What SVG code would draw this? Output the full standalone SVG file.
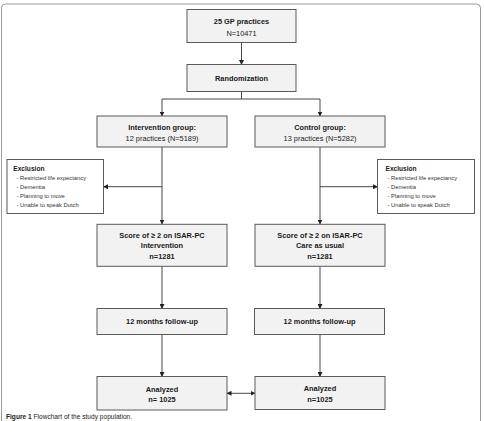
<svg xmlns="http://www.w3.org/2000/svg" width="484" height="421" viewBox="0 0 484 421">
<defs>
<marker id="ah" markerWidth="5" markerHeight="5" refX="4.5" refY="2.5" orient="auto" markerUnits="userSpaceOnUse">
<path d="M0,0 L5,2.5 L0,5 Z" fill="#222"/>
</marker>
<marker id="ahs" markerWidth="5" markerHeight="5" refX="0.5" refY="2.5" orient="auto" markerUnits="userSpaceOnUse">
<path d="M5,0 L0,2.5 L5,5 Z" fill="#222"/>
</marker>
<style>
.box{fill:#f2f2f2;stroke:#5a5a5a;stroke-width:1}
.ex{fill:#ffffff;stroke:#5a5a5a;stroke-width:1}
.t{font-family:"Liberation Sans",Arial,sans-serif;font-size:7.4px;fill:#1a1a1a;text-anchor:middle}
.b{font-weight:bold}
.s{font-family:"Liberation Sans",Arial,sans-serif;font-size:5.8px;fill:#333}
.sb{font-family:"Liberation Sans",Arial,sans-serif;font-size:6.6px;font-weight:bold;fill:#1a1a1a}
.c{fill:none;stroke:#333;stroke-width:0.9}
.cap{font-family:"Liberation Sans",Arial,sans-serif;font-size:6.6px;fill:#222}
</style>
</defs>
<rect x="1.5" y="4" width="479" height="440" rx="4" fill="#ffffff" stroke="#9a9a9a" stroke-width="1"/>
<g id="connectors">
<line class="c" x1="241.5" y1="42.5" x2="241.5" y2="64.5" marker-end="url(#ah)"/>
<polyline class="c" points="241.5,91.5 241.5,99 162,99 162,116" marker-end="url(#ah)"/>
<polyline class="c" points="241.5,99 320,99 320,116" marker-end="url(#ah)"/>
<line class="c" x1="162" y1="147" x2="162" y2="224" marker-end="url(#ah)"/>
<line class="c" x1="162" y1="186.7" x2="103.5" y2="186.7" marker-end="url(#ah)"/>
<line class="c" x1="320" y1="147" x2="320" y2="224" marker-end="url(#ah)"/>
<line class="c" x1="320" y1="186.7" x2="377.5" y2="186.7" marker-end="url(#ah)"/>
<line class="c" x1="162" y1="266.5" x2="162" y2="308.5" marker-end="url(#ah)"/>
<line class="c" x1="320" y1="266.5" x2="320" y2="308.5" marker-end="url(#ah)"/>
<line class="c" x1="162" y1="334.5" x2="162" y2="376.5" marker-end="url(#ah)"/>
<line class="c" x1="320" y1="334.5" x2="320" y2="376.5" marker-end="url(#ah)"/>
<line class="c" x1="227" y1="393.3" x2="255" y2="393.3" marker-start="url(#ahs)" marker-end="url(#ah)"/>
</g>
<g id="practices">
<rect class="box" x="187" y="9.5" width="109" height="33"/>
<text class="t b" x="241.5" y="23.8">25 GP practices</text>
<text class="t" x="241.5" y="36">N=10471</text>
</g>
<g id="randomization">
<rect class="box" x="187" y="64.5" width="109" height="27"/>
<text class="t b" x="241.5" y="81">Randomization</text>
</g>
<g id="intervention">
<rect class="box" x="97" y="116" width="130" height="31"/>
<text class="t b" x="162" y="129.5">Intervention group:</text>
<text class="t" x="162" y="140.5">12 practices (N=5189)</text>
</g>
<g id="control">
<rect class="box" x="255" y="116" width="130" height="31"/>
<text class="t b" x="320" y="129.5">Control group:</text>
<text class="t" x="320" y="140.5">13 practices (N=5282)</text>
</g>
<g id="exclusion-left">
<rect class="ex" x="7" y="159.5" width="96.5" height="54"/>
<text class="sb" x="13.3" y="171">Exclusion</text>
<text class="s" x="16.5" y="180">- Restricted life expectancy</text>
<text class="s" x="16.5" y="189">- Dementia</text>
<text class="s" x="16.5" y="198">- Planning to move</text>
<text class="s" x="16.5" y="206.5">- Unable to speak Dutch</text>
</g>
<g id="exclusion-right">
<rect class="ex" x="377.5" y="159.5" width="97" height="54"/>
<text class="sb" x="385.5" y="171">Exclusion</text>
<text class="s" x="387.5" y="180">- Restricted life expectancy</text>
<text class="s" x="387.5" y="189">- Dementia</text>
<text class="s" x="387.5" y="198">- Planning to move</text>
<text class="s" x="387.5" y="206.5">- Unable to speak Dutch</text>
</g>
<g id="score-intervention">
<rect class="box" x="97" y="224.3" width="130" height="42"/>
<text class="t b" x="162" y="237.7">Score of ≥ 2 on ISAR-PC</text>
<text class="t b" x="162" y="248">Intervention</text>
<text class="t b" x="162" y="258.7">n=1281</text>
</g>
<g id="score-control">
<rect class="box" x="255" y="224.3" width="130" height="42"/>
<text class="t b" x="320" y="237.7">Score of ≥ 2 on ISAR-PC</text>
<text class="t b" x="320" y="248">Care as usual</text>
<text class="t b" x="320" y="258.7">n=1281</text>
</g>
<g id="followup-intervention">
<rect class="box" x="97" y="308.5" width="130" height="26"/>
<text class="t b" x="162" y="324.3">12 months follow-up</text>
</g>
<g id="followup-control">
<rect class="box" x="254.5" y="308.5" width="130" height="26"/>
<text class="t b" x="319.5" y="324.3">12 months follow-up</text>
</g>
<g id="analyzed-intervention">
<rect class="box" x="97" y="376.5" width="130" height="33.5"/>
<text class="t b" x="162" y="391.5">Analyzed</text>
<text class="t b" x="162" y="402.3">n= 1025</text>
</g>
<g id="analyzed-control">
<rect class="box" x="255" y="376.5" width="130" height="33"/>
<text class="t b" x="320" y="391.2">Analyzed</text>
<text class="t b" x="320" y="402">n=1025</text>
</g>
<text class="cap" x="6" y="419"><tspan font-weight="bold">Figure 1</tspan> Flowchart of the study population.</text>
</svg>
